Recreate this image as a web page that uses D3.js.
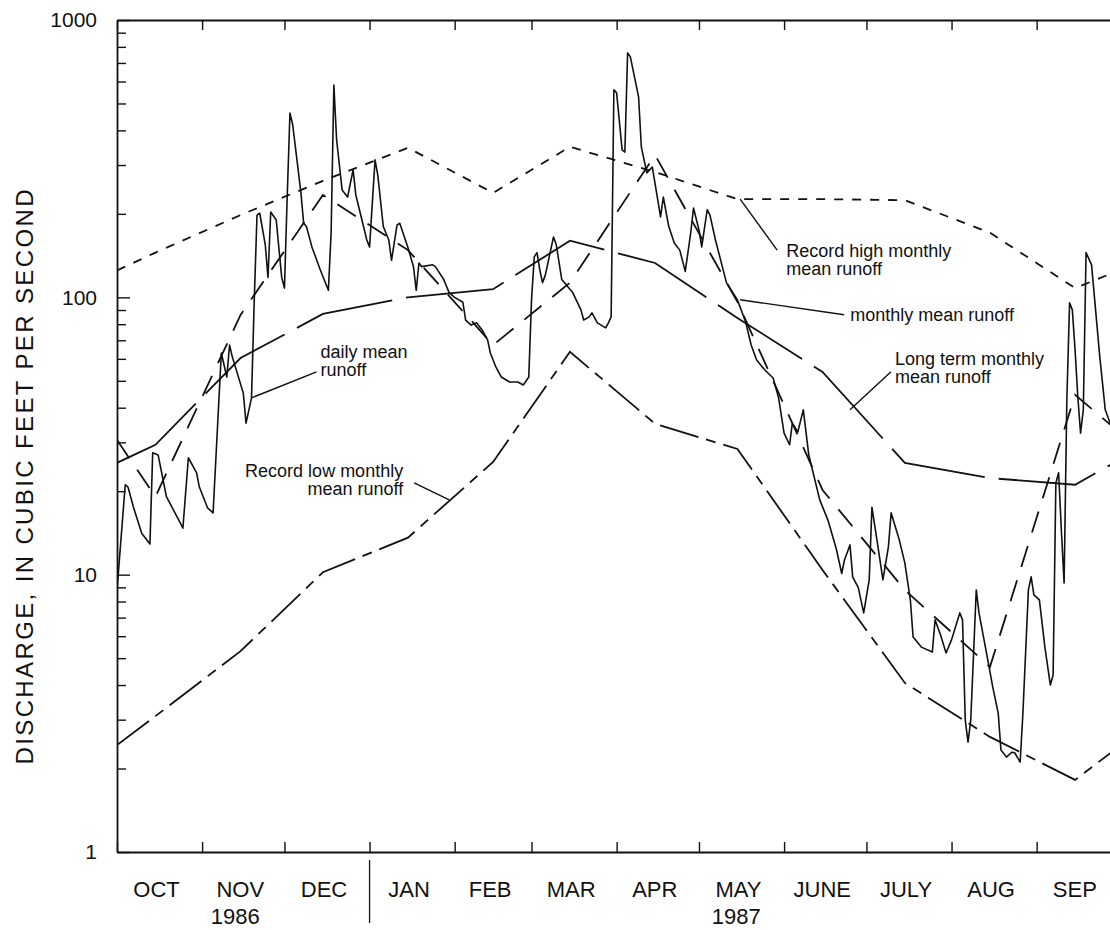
<!DOCTYPE html>
<html><head><meta charset="utf-8">
<script src="https://cdn.jsdelivr.net/npm/d3@7"></script>
<style>
body{margin:0;background:#fff;}
svg{display:block;}
text{font-family:"Liberation Sans",Arial,Helvetica,sans-serif;fill:#111;}
</style></head><body>
<svg id="chart" width="1110" height="930"></svg>
<script>
// ---------- DATA ----------
const months = ["OCT","NOV","DEC","JAN","FEB","MAR","APR","MAY","JUNE","JULY","AUG","SEP"];
const monthStarts = ["1986-10-01","1986-11-01","1986-12-01","1987-01-01","1987-02-01","1987-03-01",
  "1987-04-01","1987-05-01","1987-06-01","1987-07-01","1987-08-01","1987-09-01","1987-10-01"];
const yearLabels = ["1986","1987"];
const yearSpans = [["1986-10-01","1987-01-01"],["1987-01-01","1987-10-01"]];
const yTickLabels = [1,10,100,1000];
const yAxisTitle = "DISCHARGE, IN CUBIC FEET PER SECOND";

// monthly series plotted at mid-month (plus water-year end points)
const monthlyDates = ["1986-10-01","1986-10-15","1986-11-15","1986-12-15","1987-01-15","1987-02-15",
  "1987-03-15","1987-04-15","1987-05-15","1987-06-15","1987-07-15","1987-08-15","1987-09-15","1987-10-01"];
const recordHigh      = [125,145,198,263,346,238,349,283,226,226,224,171,108,125];
const longTermMean    = [25.3,29.4,60.4,87.1,100,107,160,133,84.3,53.8,25.3,22.3,21.1,25.9];
const monthlyMean1987 = [30.6,19.1,86.4,234,148,67.3,113,326,96.3,20.2,8.8,4.65,44.5,32.7];
const recordLow       = [2.43,3.09,5.3,10.2,13.6,25.5,63.6,35.0,28.4,10.4,4.07,2.6,1.82,2.4];

// daily mean runoff: [day of water year (0 = 1986-10-01), cubic feet per second]
const dailyMean = [[0,8.8],[3,21.1],[4,20.7],[6,17.5],[9,14.1],[12,12.9],[13,27.5],[15,27.0],[18,19.1],[23,15.4],
[24,14.7],[26,26.4],[29,23.3],[30,20.7],[33,17.4],[35,16.7],[38,63],[40,51.6],[41,67.3],[42,61],[46,45.2],[47,35.2],
[49,43.4],[50,97.9],[51,198],[52,201],[54,155],[55,118],[56,203],[58,190],[60,118],[61,108],[62,230],[63,462],
[64,419],[67,238],[68,185],[69,180],[71,152],[74,126],[77,106],[78,171],[79,583],[80,370],[82,244],[84,230],
[86,288],[87,234],[91,161],[92,152],[94,313],[95,276],[97,180],[99,161],[100,136],[102,182],[103,185],[106,151],
[108,129],[109,106],[110,133],[111,129],[115,131],[116,129],[119,116],[121,104],[123,100],[126,96],[127,82.8],
[129,79.4],[131,80.9],[133,76.3],[135,70.2],[136,63],[138,56.1],[140,51.6],[143,49.5],[146,49.5],[148,48.3],
[150,51.6],[151,97.9],[152,140],[153,145],[154,126],[155,113],[156,120],[159,165],[160,155],[162,116],[166,104],
[169,90.1],[170,82.8],[172,85],[173,87.9],[175,80.9],[178,77.6],[179,80.9],[180,85],[181,560],[182,546],[184,340],
[185,334],[186,761],[187,736],[190,528],[191,349],[193,281],[195,295],[197,224],[198,195],[199,230],[201,180],
[203,157],[205,148],[207,124],[209,171],[210,210],[212,175],[213,152],[215,207],[216,198],[218,161],[222,113],
[226,97.9],[229,81.5],[231,67.3],[233,59.4],[236,54.7],[239,51.2],[241,43.4],[243,32.4],[245,29.4],[246,35.2],
[248,32.7],[250,39.3],[252,27],[256,18.6],[259,15.7],[262,12.4],[264,10.1],[265,11.3],[267,12.8],[268,9.8],
[270,9],[272,7.28],[274,9.57],[275,17.5],[277,13],[279,9.57],[281,12.6],[282,16.7],[285,13.3],[287,11],[289,8.1],
[290,5.96],[293,5.48],[297,5.26],[298,6.87],[300,6.06],[302,5.22],[304,5.82],[307,7.28],[308,6.87],[309,2.99],
[310,2.49],[311,2.99],[313,8.81],[314,7.28],[317,5.05],[319,3.94],[321,3.17],[322,2.33],[324,2.2],[326,2.29],
[327,2.28],[329,2.11],[330,3.17],[332,8.81],[333,9.82],[334,8.45],[336,8.11],[338,5.48],[340,4.0],[341,4.35],
[342,21.4],[343,23.3],[344,14.5],[345,9.33],[346,42.7],[347,95.5],[348,90.1],[349,64.6],[350,43.7],[351,32.4],
[352,39.3],[353,145],[355,131],[358,61],[360,39.3],[362,34.7]];

// annotations: anchor on a curve (date, value), leader offset, text lines
const annotations = [
  {lines:["Record high monthly","mean runoff"], date:"1987-05-16", value:226, leader:[37,51], text:[9,7], anchor:"start"},
  {lines:["monthly mean runoff"], date:"1987-05-16", value:98, leader:[104,15], text:[6,6], anchor:"start"},
  {lines:["Long term monthly","mean runoff"], date:"1987-06-25", value:39.3, leader:[41,-38], text:[4,-7], anchor:"start"},
  {lines:["daily mean","runoff"], date:"1986-11-19", value:43.4, leader:[65,-26], text:[4,-14], anchor:"start"},
  {lines:["Record low monthly","mean runoff"], date:"1987-01-30", value:18.6, leader:[-35,-17], text:[-11,-6], anchor:"end"}
];

// ---------- CHART ----------
const parse = d3.timeParse("%Y-%m-%d");
const start = parse("1986-10-01");
const svg = d3.select("#chart");
const L = 117, R = 1119, T = 20, B = 852;
const x = d3.scaleTime().domain([start, parse("1987-10-01")]).range([L, R]);
const y = d3.scaleLog().domain([1, 1000]).range([B, T]);
const ink = "#111";

svg.append("defs").append("clipPath").attr("id","plot")
  .append("rect").attr("x",L).attr("y",T).attr("width",R-L).attr("height",B-T);

// frame + ticks
const mStarts = monthStarts.map(parse);
const minor = [];
[1,10,100].forEach(p => { for (let k=1;k<10;k++) minor.push(p*k); });
minor.push(1000);

function styleAxis(g){
  g.select(".domain").attr("stroke",ink).attr("stroke-width",1.8);
  g.selectAll(".tick line").attr("stroke",ink).attr("stroke-width",1.4);
}
svg.append("g").attr("transform",`translate(0,${B})`)
  .call(d3.axisBottom(x).tickValues(mStarts).tickSize(-10).tickSizeOuter(0).tickFormat(""))
  .call(styleAxis);
svg.append("g").attr("transform",`translate(0,${T})`)
  .call(d3.axisTop(x).tickValues(mStarts).tickSize(-10).tickSizeOuter(0).tickFormat(""))
  .call(styleAxis);
const yl = svg.append("g").attr("transform",`translate(${L},0)`)
  .call(d3.axisLeft(y).tickValues(minor).tickSize(-9).tickSizeOuter(0).tickPadding(20)
     .tickFormat(d => yTickLabels.includes(d) ? String(d) : ""))
  .call(styleAxis);
yl.selectAll(".tick line").filter(d => yTickLabels.includes(d)).attr("x2", 13);
yl.selectAll(".tick text").attr("font-size",21).attr("fill",ink)
  .attr("font-family",'"Liberation Sans",Arial,sans-serif');
svg.append("g").attr("transform",`translate(${R},0)`)
  .call(d3.axisRight(y).tickValues(minor).tickSize(-9).tickSizeOuter(0).tickFormat(""))
  .call(styleAxis);

// month labels
svg.append("g").selectAll("text").data(months).join("text")
  .attr("x",(d,i) => (x(mStarts[i]) + x(mStarts[i+1]))/2 - 3)
  .attr("y",897).attr("text-anchor","middle").attr("font-size",22).text(d => d);
// year labels
svg.append("g").selectAll("text").data(yearLabels).join("text")
  .attr("x",(d,i) => (x(parse(yearSpans[i][0])) + x(parse(yearSpans[i][1])))/2 - 8)
  .attr("y",924).attr("text-anchor","middle").attr("font-size",22).text(d => d);
// year separator
svg.append("line").attr("x1",x(parse("1987-01-01"))).attr("x2",x(parse("1987-01-01")))
  .attr("y1",B+8).attr("y2",B+71).attr("stroke",ink).attr("stroke-width",1.3);

// y title
svg.append("text").attr("transform","translate(33,477) rotate(-90)")
  .attr("text-anchor","middle").attr("font-size",24)
  .attr("textLength",575).attr("lengthAdjust","spacing").text(yAxisTitle);

// series
const plot = svg.append("g").attr("clip-path","url(#plot)");
const mDates = monthlyDates.map(parse);
const line = d3.line().x(d => x(d[0])).y(d => y(d[1]));
function addSeries(values, dash, w){
  plot.append("path").datum(values.map((v,i) => [mDates[i], v]))
    .attr("d", line).attr("fill","none").attr("stroke",ink)
    .attr("stroke-width", w).attr("stroke-dasharray", dash);
}
addSeries(recordHigh, "9,9", 1.8);
addSeries(longTermMean, "100,14", 1.8);
addSeries(monthlyMean1987, "22,14", 1.8);
addSeries(recordLow, "40,8,10,8", 1.8);
plot.append("path").datum(dailyMean.map(d => [d3.timeDay.offset(start, d[0]), d[1]]))
  .attr("d", line).attr("fill","none").attr("stroke",ink)
  .attr("stroke-width",1.6).attr("stroke-linejoin","round");

// annotations
annotations.forEach(a => {
  const ax = x(parse(a.date)), ay = y(a.value);
  const ex = ax + a.leader[0], ey = ay + a.leader[1];
  svg.append("line").attr("x1",ax).attr("y1",ay).attr("x2",ex).attr("y2",ey)
    .attr("stroke",ink).attr("stroke-width",1.4);
  const t = svg.append("text").attr("font-size",18).attr("text-anchor",a.anchor);
  a.lines.forEach((s,i) => t.append("tspan").attr("x", ex + a.text[0])
    .attr("y", ey + a.text[1] + i*18).text(s));
});
</script>
</body></html>
